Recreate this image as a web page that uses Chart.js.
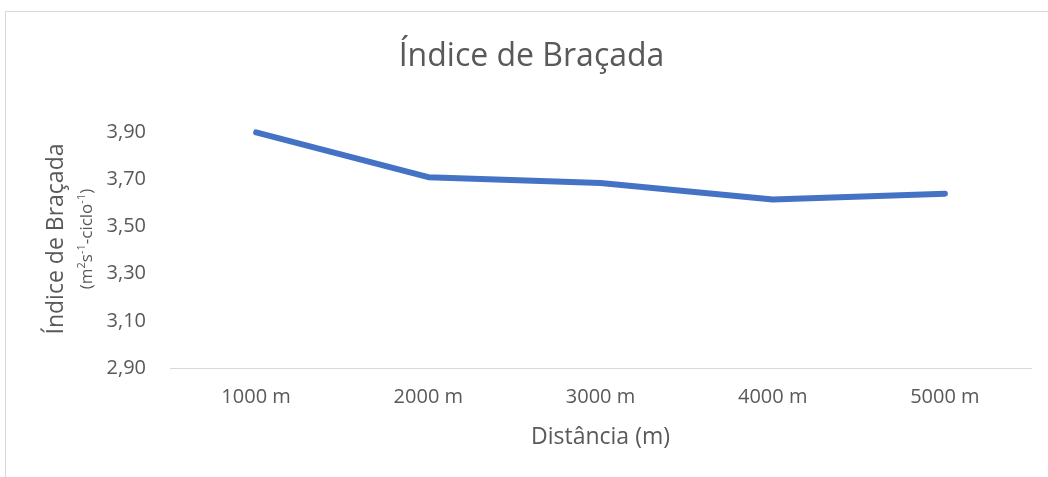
<!DOCTYPE html>
<html lang="pt">
<head>
    <meta charset="UTF-8">
    <title>Índice de Braçada</title>
    <script src="https://cdn.jsdelivr.net/npm/chart.js"></script>
    <style>
        * { margin: 0; padding: 0; box-sizing: border-box; }
        body {
            width: 1048px;
            height: 477px;
            overflow: hidden;
            background: #fff;
            position: relative;
        }
        .frame {
            position: absolute;
            left: 5px;
            top: 11px;
            width: 1100px;
            height: 500px;
            border: 1px solid #d9d9d9;
        }
        #chart {
            position: absolute;
            left: 0;
            top: 0;
        }
    </style>
</head>
<body>
    <div class="frame"></div>
    <canvas id="chart" width="1048" height="477"></canvas>

    <script>
        // Data
        const categories = ['1000 m', '2000 m', '3000 m', '4000 m', '5000 m'];
        const indiceBracada = [3.90, 3.71, 3.685, 3.615, 3.64];
        const yTicks = [2.90, 3.10, 3.30, 3.50, 3.70, 3.90];

        const textColor = '#595959';
        const family = "'Open Sans', sans-serif";

        // Rotated y title with smaller unit line (superscripts drawn by hand)
        const yTitlePlugin = {
            id: 'yTitle',
            afterDraw(chart) {
                const ctx = chart.ctx;
                const cy = 239;
                ctx.save();
                ctx.fillStyle = textColor;
                ctx.textBaseline = 'middle';
                ctx.textAlign = 'center';

                ctx.save();
                ctx.translate(56, cy);
                ctx.rotate(-Math.PI / 2);
                ctx.font = '23px ' + family;
                ctx.fillText('Índice de Braçada', 0, 0);
                ctx.restore();

                // unit line
                const parts = [['(m', 0], ['2', 1], ['s', 0], ['-1', 1], ['-ciclo', 0], ['-1', 1], [')', 0]];
                const base = '17px ' + family;
                const sup = '11px ' + family;
                let total = 0;
                parts.forEach(p => {
                    ctx.font = p[1] ? sup : base;
                    total += ctx.measureText(p[0]).width;
                });
                ctx.save();
                ctx.translate(87, cy);
                ctx.rotate(-Math.PI / 2);
                ctx.textAlign = 'left';
                let x = -total / 2;
                parts.forEach(p => {
                    ctx.font = p[1] ? sup : base;
                    ctx.fillText(p[0], x, p[1] ? -5 : 0);
                    x += ctx.measureText(p[0]).width;
                });
                ctx.restore();
                ctx.restore();
            }
        };

        function draw() {
            new Chart(document.getElementById('chart'), {
                type: 'line',
                data: {
                    labels: categories,
                    datasets: [{
                        label: 'Índice de Braçada',
                        data: indiceBracada,
                        borderColor: '#4472C4',
                        backgroundColor: '#4472C4',
                        borderWidth: 6,
                        borderCapStyle: 'round',
                        borderJoinStyle: 'round',
                        pointRadius: 0,
                        tension: 0,
                        fill: false,
                        clip: false
                    }]
                },
                options: {
                    responsive: false,
                    animation: false,
                    layout: { padding: { left: 32, right: 17, top: 0, bottom: 0 } },
                    plugins: {
                        legend: { display: false },
                        tooltip: { enabled: false },
                        title: {
                            display: true,
                            text: 'Índice de Braçada',
                            color: textColor,
                            font: { family: family, size: 32, weight: 'normal' },
                            padding: { top: 38, bottom: 56 }
                        }
                    },
                    scales: {
                        x: {
                            offset: true,
                            grid: { display: false, drawTicks: false },
                            border: { display: true, color: '#d9d9d9', width: 1 },
                            ticks: {
                                color: textColor,
                                padding: 17,
                                maxRotation: 0,
                                font: { family: family, size: 20 }
                            },
                            title: {
                                display: true,
                                text: 'Distância (m)',
                                color: textColor,
                                font: { family: family, size: 23 },
                                padding: { top: 0, bottom: 26 }
                            },
                            afterFit(scale) { scale.height = 109; }
                        },
                        y: {
                            min: 2.9,
                            max: 3.9,
                            grid: { display: false, drawTicks: false },
                            border: { display: false },
                            ticks: {
                                color: textColor,
                                padding: 24,
                                font: { family: family, size: 20 },
                                callback: v => v.toFixed(2).replace('.', ',')
                            },
                            afterBuildTicks(scale) {
                                scale.ticks = yTicks.map(v => ({ value: v }));
                            },
                            afterFit(scale) { scale.width = 138; }
                        }
                    }
                },
                plugins: [yTitlePlugin]
            });
        }

        Promise.all([
            document.fonts.load("20px 'Open Sans'"),
            document.fonts.load("32px 'Open Sans'")
        ]).then(draw, draw);
    </script>
</body>
</html>
